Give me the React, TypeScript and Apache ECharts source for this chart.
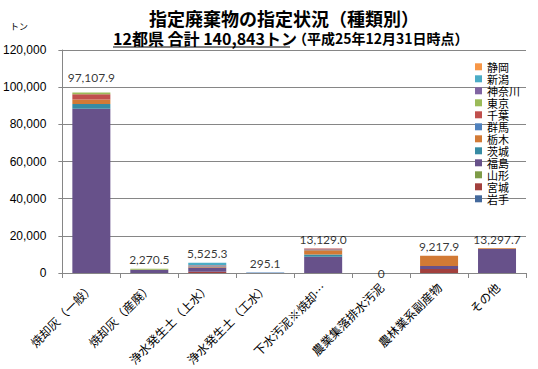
import React, { useEffect, useRef } from "react";
import * as echarts from "echarts";

const categories = [
  "焼却灰（一般）",
  "焼却灰（産廃）",
  "浄水発生土（上水）",
  "浄水発生土（工水）",
  "下水汚泥※焼却…",
  "農業集落排水汚泥",
  "農林業系副産物",
  "その他",
];

// series in stacking order (bottom -> top)
const prefectures = ["岩手", "宮城", "山形", "福島", "茨城", "栃木", "群馬", "千葉", "東京", "神奈川", "新潟", "静岡"];

const iwate = [0, 0, 0, 0, 0, 0, 0, 0];
const miyagi = [0, 0, 700, 0, 0, 0, 2100, 0];
const yamagata = [0, 0, 0, 0, 0, 0, 0, 0];
const fukushima = [88400, 1720, 2200, 0, 8700, 0, 1700, 12850];
const ibaraki = [2550, 0, 0, 0, 1250, 0, 0, 0];
const tochigi = [2450, 50, 600, 0, 2350, 0, 5417.9, 447.7];
const gunma = [0, 0, 400, 295.1, 350, 0, 0, 0];
const chiba = [2727.9, 0, 300, 0, 479, 0, 0, 0];
const tokyo = [980, 500.5, 0, 0, 0, 0, 0, 0];
const kanagawa = [0, 0, 0, 0, 0, 0, 0, 0];
const niigata = [0, 0, 1325.3, 0, 0, 0, 0, 0];
const shizuoka = [0, 0, 0, 0, 0, 0, 0, 0];

const seriesValues = [iwate, miyagi, yamagata, fukushima, ibaraki, tochigi, gunma, chiba, tokyo, kanagawa, niigata, shizuoka];

const totals = [97107.9, 2270.5, 5525.3, 295.1, 13129.0, 0, 9217.9, 13297.7];

const yTicks = [0, 20000, 40000, 60000, 80000, 100000, 120000];

const colors = [
  "#43699C", "#A2403D", "#7E9B47", "#67518A", "#378BA3", "#D27A35",
  "#4F81BD", "#C0504D", "#9BBB59", "#8064A2", "#4BACC6", "#F79646",
];

const CJK = "'Noto Sans CJK JP', sans-serif";

export default function App() {
  const ref = useRef<HTMLDivElement>(null);
  useEffect(() => {
    if (!ref.current) return;
    const chart = echarts.init(ref.current, null, { renderer: "svg" });
    const grid = { left: 62, right: 12, top: 50, bottom: 96 };
    const gray = "#868686";
    const barSeries = prefectures.map((name, i) => ({
      name,
      type: "bar",
      stack: "total",
      barWidth: 38,
      itemStyle: { color: colors[i] },
      data: seriesValues[i],
    }));
    const option: any = {
      animation: false,
      backgroundColor: "#fff",
      grid,
      legend: {
        orient: "vertical",
        left: 470,
        top: 56,
        itemWidth: 7,
        itemHeight: 7,
        itemGap: 0.4,
        icon: "rect",
        selectedMode: false,
        data: [...prefectures].reverse(),
        textStyle: { fontSize: 11, lineHeight: 11.6, color: "#000", fontFamily: CJK },
      },
      xAxis: {
        type: "category",
        data: categories,
        axisLine: { lineStyle: { color: gray } },
        axisTick: { show: true, length: 5, lineStyle: { color: gray } },
        axisLabel: {
          interval: 0,
          rotate: 45,
          fontSize: 12,
          margin: 12,
          color: "#000",
          fontFamily: CJK,
        },
      },
      yAxis: {
        type: "value",
        min: yTicks[0],
        max: yTicks[yTicks.length - 1],
        interval: 20000,
        axisLine: { show: true, lineStyle: { color: gray } },
        axisTick: { show: true, length: 4, lineStyle: { color: gray } },
        splitLine: { lineStyle: { color: gray, width: 1 } },
        axisLabel: {
          fontSize: 12,
          margin: 16,
          color: "#000",
          fontFamily: "'Liberation Sans', Arial, sans-serif",
          formatter: (v: number) => v.toLocaleString("en-US"),
        },
      },
      graphic: [
        {
          type: "text",
          x: 284,
          y: 18,
          style: {
            text: "指定廃棄物の指定状況（種類別）",
            fontSize: 18,
            fontWeight: "bold",
            fontFamily: CJK,
            fill: "#000",
            align: "center",
            verticalAlign: "middle",
          },
        },
        {
          type: "text",
          x: 113,
          y: 38,
          style: {
            text: "12都県 合計 140,843トン",
            fontSize: 16,
            fontWeight: "bold",
            fontFamily: CJK,
            fill: "#000",
            align: "left",
            verticalAlign: "middle",
          },
        },
        {
          type: "line",
          shape: { x1: 113, y1: 47, x2: 290, y2: 47 },
          style: { stroke: "#000", lineWidth: 1 },
        },
        {
          type: "text",
          x: 293,
          y: 38,
          style: {
            text: "（平成25年12月31日時点）",
            fontSize: 14,
            fontWeight: "bold",
            fontFamily: CJK,
            fill: "#000",
            align: "left",
            verticalAlign: "middle",
          },
        },
        {
          type: "text",
          x: 19,
          y: 26,
          style: {
            text: "トン",
            fontSize: 9,
            fontFamily: CJK,
            fill: "#000",
            align: "center",
            verticalAlign: "middle",
          },
        },
      ],
      series: [
        ...barSeries,
        {
          name: "合計",
          type: "scatter",
          symbolSize: 0,
          z: 10,
          data: totals.map((v, i) =>
            v === 0
              ? { value: v, label: { position: "inside" } }
              : i === 0
              ? { value: v, label: { distance: 9 } }
              : v
          ),
          label: {
            show: true,
            position: "top",
            distance: 3,
            fontSize: 12,
            color: "#000",
            fontFamily: "Lato, 'Open Sans', sans-serif",
            formatter: (p: any) =>
              p.value === 0
                ? "0"
                : Number(p.value).toLocaleString("en-US", { minimumFractionDigits: 1, maximumFractionDigits: 1 }),
          },
        },
      ],
    };
    chart.setOption(option);
    return () => chart.dispose();
  }, []);
  return <div ref={ref} style={{ width: 538, height: 369, position: "absolute", left: 0, top: 0 }} />;
}
